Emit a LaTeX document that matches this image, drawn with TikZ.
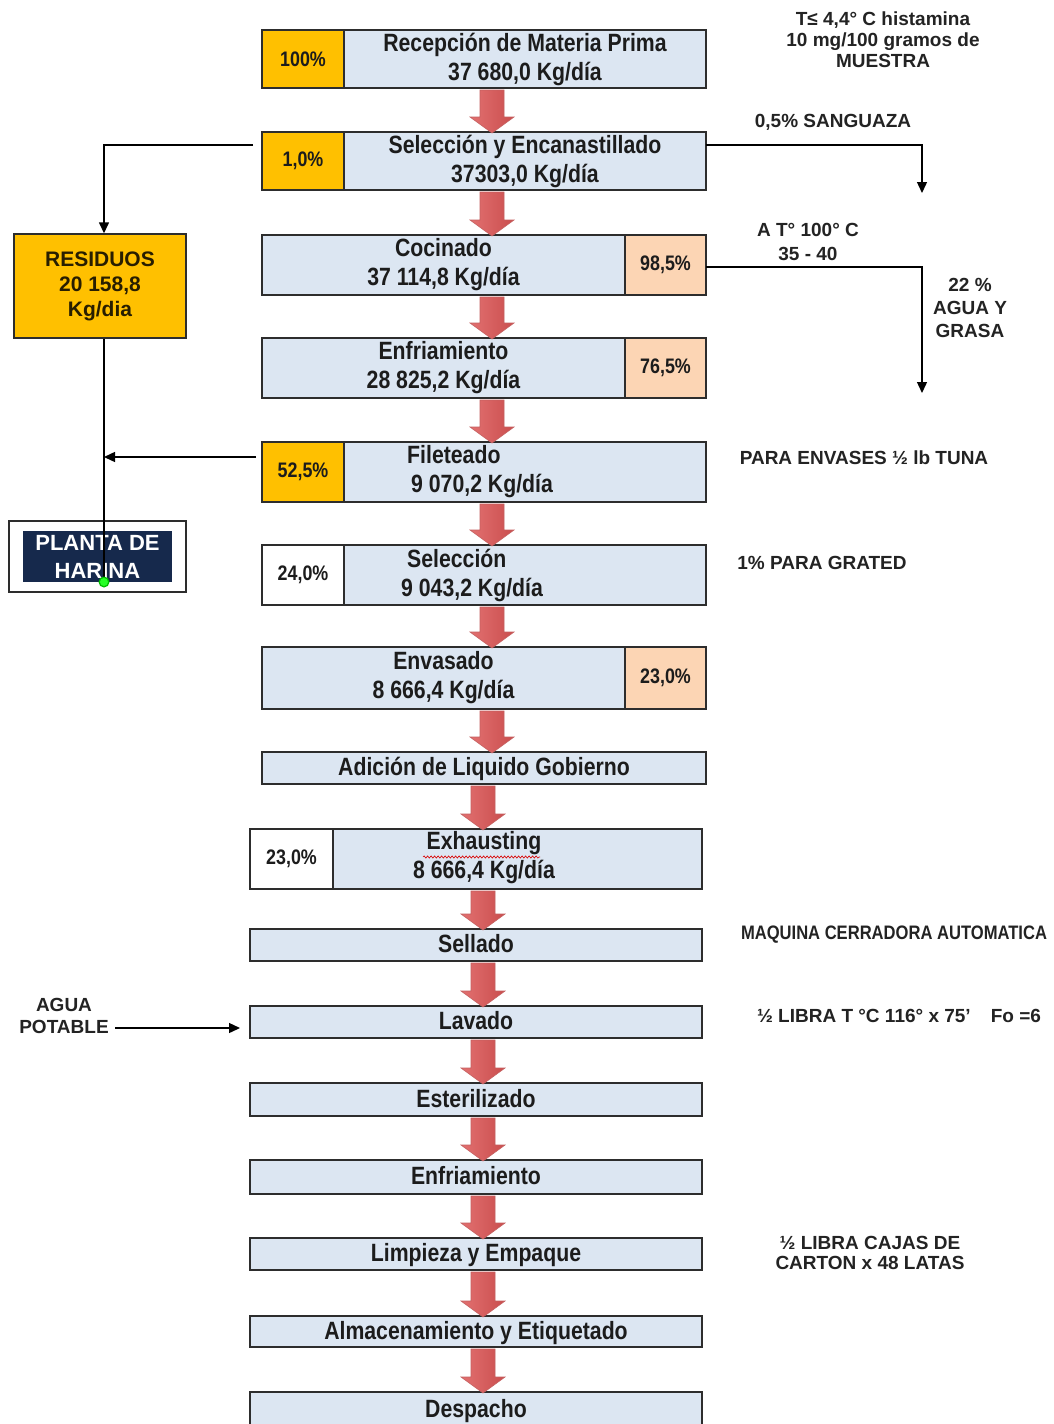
\documentclass[tikz,border=0pt]{standalone}
\usepackage{fontspec}
\setmainfont{Liberation Sans}
\newfontfamily\cond[FakeStretch=0.85]{Liberation Sans}
\usetikzlibrary{arrows.meta,calc,decorations.pathmorphing}

\definecolor{boxblue}{RGB}{220,230,242}
\definecolor{gold}{RGB}{255,192,0}
\definecolor{peach}{RGB}{252,213,180}
\definecolor{navy}{RGB}{22,41,76}
\definecolor{bord}{RGB}{45,45,45}
\definecolor{txt}{RGB}{28,28,28}
\definecolor{arrL}{RGB}{226,112,112}
\definecolor{arrM}{RGB}{242,164,164}
\definecolor{arrR}{RGB}{202,78,78}
\definecolor{arrD}{RGB}{196,96,96}

\tikzset{
  proc/.style={draw=bord, line width=1.6pt, fill=boxblue, inner sep=0pt, outer sep=0pt,
    text=txt, align=center, font=\cond\bfseries\fontsize{25}{29}\selectfont},
  single/.style={proc, text height=17.9pt, text depth=2pt},
  pct/.style={draw=bord, line width=1.6pt, inner sep=0pt, outer sep=0pt,
    text=txt, align=center, font=\cond\bfseries\fontsize{21}{25}\selectfont},
  ptext/.style={inner sep=0pt, text=txt, font=\cond\bfseries\fontsize{25}{29}\selectfont},
  ann/.style={inner sep=0pt, align=center, text={rgb,255:red,35;green,35;blue,35},
    font=\bfseries\fontsize{19}{21}\selectfont},
  conn/.style={draw=black, line width=1.4pt, -{Triangle[length=11pt,width=10pt]}},
  plain/.style={draw=black, line width=1.4pt},
  redarr/.style={left color=arrL, middle color=arrM, right color=arrR, draw=arrD, line width=0.6pt},
  wh/.style 2 args={minimum width=#1pt, minimum height=#2pt}
}

\newcommand\flowarr[3]{%
  \coordinate (fa) at (#3,0 |- #1.south);
  \coordinate (fb) at (#3,0 |- #2.north);
  \path[redarr] ($(fa)+(-12,2)$) -- ($(fa)+(12,2)$) -- ($(fb)+(12,-15)$) -- ($(fb)+(22,-15)$)
    -- ($(fb)+(0,1)$) -- ($(fb)+(-22,-15)$) -- ($(fb)+(-12,-15)$) -- cycle;}

\begin{document}
\begin{tikzpicture}[x=1pt,y=-1pt]
\useasboundingbox (0,0) rectangle (1053,1424);
\fill[white] (0,0) rectangle (1053,1424);

% ---- process boxes ----
\node[pct, fill=gold, wh={82}{58}] (p1) at (303,59) {100\%};
\node[proc, wh={362}{58}] (r1) at (525,59) {Recepción de Materia Prima\\37 680,0 Kg/día};

\node[pct, fill=gold, wh={82}{58}] (p2) at (303,161) {1,0\%};
\node[proc, wh={362}{58}] (r2) at (525,161) {Selección y Encanastillado\\37303,0 Kg/día};

\node[proc, wh={363}{60}] (r3) at (443.5,265) {Cocinado\\37 114,8 Kg/día};
\node[pct, fill=peach, wh={81}{60}] (p3) at (665.5,265) {98,5\%};

\node[proc, wh={363}{60}] (r4) at (443.5,368) {Enfriamiento\\28 825,2 Kg/día};
\node[pct, fill=peach, wh={81}{60}] (p4) at (665.5,368) {76,5\%};

\node[pct, fill=gold, wh={82}{60}] (p5) at (303,472) {52,5\%};
\node[proc, wh={362}{60}] (r5) at (525,472) {};
\node[ptext, anchor=west, align=left] (t5) at (407,472) {Fileteado\\\hspace{4pt}9 070,2 Kg/día};

\node[pct, fill=white, wh={82}{60}] (p6) at (303,575) {24,0\%};
\node[proc, wh={362}{60}] (r6) at (525,575) {};
\node[ptext, anchor=west, align=left] (t6) at (401,575) {\hspace{6pt}Selección\\9 043,2 Kg/día};

\node[proc, wh={363}{62}] (r7) at (443.5,678) {Envasado\\8 666,4 Kg/día};
\node[pct, fill=peach, wh={81}{62}] (p7) at (665.5,678) {23,0\%};

\node[single, wh={444}{32}] (r8) at (484,768) {Adición de Liquido Gobierno};

\node[pct, fill=white, wh={83}{60}] (p9) at (291.5,859) {23,0\%};
\node[proc, wh={369}{60}] (r9) at (517.5,859) {};
\node[ptext, align=center] (t9) at (484,858) {Exhausting\\8 666,4 Kg/día};
\draw[red!85!black, line width=0.6pt, decorate, decoration={snake, amplitude=1.1pt, segment length=3.5pt}]
  (423,857) -- (540,857);

\node[single, wh={452}{32}] (r10) at (476,945) {Sellado};
\node[single, wh={452}{32}] (r11) at (476,1022) {Lavado};
\node[single, wh={452}{33}] (r12) at (476,1099.5) {Esterilizado};
\node[single, wh={452}{34}] (r13) at (476,1177) {Enfriamiento};
\node[single, wh={452}{32}] (r14) at (476,1254) {Limpieza y Empaque};
\node[single, wh={452}{31}] (r15) at (476,1331.5) {Almacenamiento y Etiquetado};
\node[single, wh={452}{35}] (r16) at (476,1409.5) {Despacho};

% ---- side boxes ----
\node[draw=bord, line width=1.4pt, fill=gold, inner sep=0pt, align=center, wh={172}{104},
  text={rgb,255:red,40;green,30;blue,0}, font=\bfseries\fontsize{21}{25}\selectfont]
  (res) at (100,286) {RESIDUOS\\20 158,8\\Kg/dia};
\node[draw=bord, line width=1.2pt, fill=white, inner sep=0pt, wh={177}{71}] (plantaO) at (97.5,556.5) {};
\node[fill=navy, inner sep=0pt, align=center, text=white, wh={149}{51},
  font=\bfseries\fontsize{22}{28}\selectfont] (planta) at (97.5,556.5) {PLANTA DE\\HARINA};

% ---- connectors ----
\coordinate (s2L) at (253,145);
\coordinate (hdot) at (104,582);
\coordinate (sang) at (922,193);
\coordinate (grasa) at (922,393);
\coordinate (f5L) at (256,457);
\coordinate (aw) at (115,1028);
\coordinate (lavin) at (240,1028);

\draw[conn] (s2L) -| ([xshift=4pt]res.north);
\draw[plain] ([xshift=4pt]res.south) -- (hdot);
\draw[conn] (f5L) -- (f5L -| hdot);
\fill[green!75!black] (hdot) circle (5.5);
\fill[green!85!white] (hdot) circle (4);
\draw[conn] (r2.east |- s2L) -| (sang);
\draw[conn] ([yshift=-2pt]p3.east) -| (grasa);
\draw[conn] (aw) -- (lavin);

% ---- annotations ----
\node[ann] (n1) at (883,40) {T≤ 4,4° C histamina\\10 mg/100 gramos de\\MUESTRA};
\node[ann] (n2) at (833,122) {0,5\% SANGUAZA};
\node[ann, font=\bfseries\fontsize{19}{24}\selectfont] (n3) at (808,242) {A T° 100° C\\35 - 40};
\node[ann, font=\bfseries\fontsize{19}{23}\selectfont] (n4) at (970,308) {22 \%\\AGUA Y\\GRASA};
\node[ann] (n5) at (864,458) {PARA ENVASES ½ lb TUNA};
\node[ann] (n6) at (822,563) {1\% PARA GRATED};
\node[ann, font=\cond\bfseries\fontsize{19.5}{23}\selectfont] (n7) at (894,935) {MAQUINA CERRADORA AUTOMATICA};
\node[ann] (n8) at (899,1016) {½ LIBRA T °C 116° x 75{\char"27}\hspace{20pt}Fo =6};
\node[ann, font=\bfseries\fontsize{19}{20}\selectfont] (n9) at (870,1253) {½ LIBRA CAJAS DE\\CARTON x 48 LATAS};
\node[ann, font=\bfseries\fontsize{19}{22}\selectfont] (agua) at (64,1016) {AGUA\\POTABLE};

% ---- red flow arrows ----
\flowarr{r1}{r2}{492}
\flowarr{r2}{r3}{492}
\flowarr{r3}{r4}{492}
\flowarr{r4}{r5}{492}
\flowarr{r5}{r6}{492}
\flowarr{r6}{r7}{492}
\flowarr{r7}{r8}{492}
\flowarr{r8}{r9}{483}
\flowarr{r9}{r10}{483}
\flowarr{r10}{r11}{483}
\flowarr{r11}{r12}{483}
\flowarr{r12}{r13}{483}
\flowarr{r13}{r14}{483}
\flowarr{r14}{r15}{483}
\flowarr{r15}{r16}{483}
\end{tikzpicture}
\end{document}
